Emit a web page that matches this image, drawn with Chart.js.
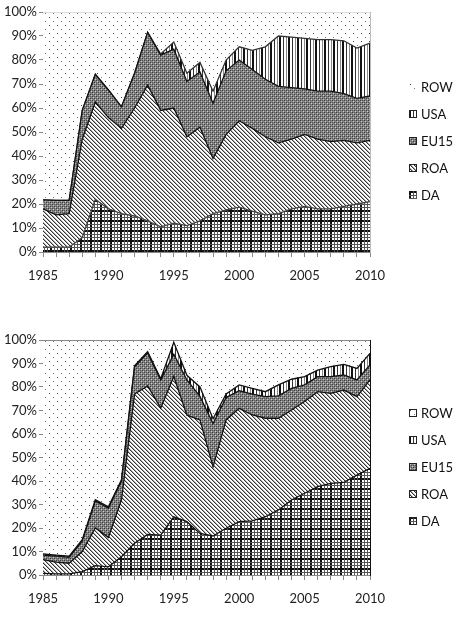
<!DOCTYPE html>
<html>
<head>
<meta charset="utf-8">
<script src="https://cdn.jsdelivr.net/npm/chart.js@4"></script>
<style>
  body { margin: 0; background: #fff; }
  .wrap { position: absolute; left: 0; width: 471px; height: 290px; }
  .legend { position: absolute; left: 409px; font: 13px Lato, sans-serif; color: #111; }
  .item { position: absolute; left: 0; height: 14px; line-height: 14px; white-space: nowrap; }
  .item canvas { position: absolute; left: 0; top: 3px; }
  .item span { position: absolute; left: 12px; top: 0; }
</style>
</head>
<body>
<div class="wrap" style="top:0"><canvas id="chartTop" width="471" height="290"></canvas></div>
<div class="wrap" style="top:328px"><canvas id="chartBottom" width="471" height="290"></canvas></div>
<div id="legendTop" class="legend" style="top:80px"></div>
<div id="legendBottom" class="legend" style="top:406px"></div>
<script>
const years = ['1985', '1986', '1987', '1988', '1989', '1990', '1991', '1992', '1993',
  '1994', '1995', '1996', '1997', '1998', '1999', '2000', '2001', '2002', '2003',
  '2004', '2005', '2006', '2007', '2008', '2009', '2010'];
const yTicks = [0, 10, 20, 30, 40, 50, 60, 70, 80, 90, 100];

// upper panel, share of total (%)
const topDA   = [2, 2, 2, 6, 22, 18, 16, 15, 13, 10.5, 12, 11, 13, 16, 17.5, 18.7, 17, 15.5, 16, 18, 19, 18, 18, 19, 20, 21];
const topROA  = [16, 13.5, 14, 41, 40.5, 38, 35.5, 45, 56.5, 48.5, 48, 37, 39, 23, 31.5, 36, 34.5, 32.5, 29.5, 29, 30, 29, 28, 27.5, 25.5, 25.5];
const topEU15 = [3.7, 6, 5.5, 12, 11.5, 11.5, 9, 14.5, 22, 23, 24.5, 23, 23, 23, 26.5, 25.3, 24.5, 24, 23.5, 21.5, 19, 20, 21, 19.5, 18.5, 18.5];
const topUSA  = [0, 0, 0, 0, 0, 0, 0, 0, 0, 0.5, 3, 3.5, 4, 5, 4.5, 5.5, 8, 13.5, 21, 21, 21, 21.5, 21.5, 22, 21, 22];
const topROW  = [78.3, 78.5, 78.5, 41, 26, 32.5, 39.5, 25.5, 8.5, 17.5, 12.5, 25.5, 21, 33, 20, 14.5, 16, 14.5, 10, 10.5, 11, 11.5, 11.5, 12, 15, 13];

// lower panel, share of total (%)
const botDA   = [0.7, 0.5, 0.5, 1.4, 4, 3.5, 7.8, 13.5, 17.3, 17, 24.8, 22.7, 17.7, 16.6, 19.9, 22.7, 23, 24.8, 27.7, 31.9, 34.8, 37.6, 39, 39.4, 42.5, 45.4];
const botROA  = [5.8, 5, 4.5, 8.6, 16, 12.5, 24.2, 63.5, 63.2, 54, 59.7, 45.3, 48.3, 29.4, 46.1, 48.2, 45.1, 41.9, 39, 38.3, 39, 40.4, 38.3, 39.3, 33.4, 37.6];
const botEU15 = [2, 2.5, 2.5, 4.5, 11.5, 12.5, 8, 11.5, 14, 12, 9.5, 15, 10, 18.5, 9.5, 7.5, 8.9, 9.2, 9.5, 9.2, 7.1, 6.4, 7.1, 6.4, 7.1, 6.4];
const botUSA  = [0.5, 0.5, 0.5, 0.5, 0.5, 0.5, 0.5, 0.5, 0.5, 0.5, 5, 2, 4, 2, 1.5, 2.5, 2.4, 2.1, 4.7, 3.9, 3.5, 2.8, 4.3, 4.5, 4.9, 4.9];
const botROW  = [91, 91.5, 92, 85, 68, 71, 59.5, 11, 5, 16.5, 1, 15, 20, 33.5, 23, 19.1, 20.6, 22, 19.1, 16.7, 15.6, 12.8, 11.3, 10.4, 12.1, 5.7];

const names = ['DA', 'ROA', 'EU15', 'USA', 'ROW'];

// small tiles used as fill patterns
function tile(w, h, draw) {
  const c = document.createElement('canvas');
  c.width = w; c.height = h;
  const g = c.getContext('2d');
  g.fillStyle = '#fff';
  g.fillRect(0, 0, w, h);
  draw(g);
  return c;
}
function px(g, color, x, y, w, h) {
  g.fillStyle = color;
  g.fillRect(x, y, w || 1, h || 1);
}

const tiles = {
  ROW: tile(8, 8, g => { px(g, '#444', 1, 1); px(g, '#777', 5, 5); }),
  USA: tile(9, 1, g => { px(g, '#111', 0, 0, 2, 1); px(g, '#333', 4, 0); px(g, '#888', 7, 0); }),
  EU15: tile(4, 4, g => {
    px(g, '#858585', 0, 0, 4, 4);
    px(g, '#3a3a3a', 0, 0); px(g, '#3a3a3a', 2, 2);
    px(g, '#555', 0, 2); px(g, '#555', 2, 0);
    px(g, '#c8c8c8', 1, 1); px(g, '#c8c8c8', 3, 3);
  }),
  ROA: tile(4, 4, g => {
    for (let i = 0; i < 4; i++) { px(g, '#333', i, i); px(g, '#aaa', (i + 1) % 4, i); }
  }),
  DA: tile(10, 10, g => {
    px(g, '#111', 0, 0, 2, 10); px(g, '#111', 0, 0, 10, 2);
    px(g, '#555', 4, 0, 1, 10); px(g, '#555', 7, 0, 1, 10);
    px(g, '#555', 0, 4, 10, 1); px(g, '#555', 0, 7, 10, 1);
  })
};

function makeChart(id, series, lineColors, rowBorder, axisHeight) {
  const ctx = document.getElementById(id).getContext('2d');
  const datasets = names.map((name, i) => ({
    label: name,
    data: series[i],
    backgroundColor: ctx.createPattern(tiles[name], 'repeat'),
    borderColor: name === 'ROW' ? rowBorder : lineColors[i],
    borderWidth: name === 'ROW' ? 1 : 1.3,
    fill: i === 0 ? 'origin' : '-1',
    pointRadius: 0,
    tension: 0
  }));
  return new Chart(ctx, {
    type: 'line',
    data: { labels: years, datasets: datasets },
    options: {
      responsive: false,
      animation: false,
      devicePixelRatio: 1,
      layout: { padding: { top: 12, right: 101 } },
      plugins: { legend: { display: false }, tooltip: { enabled: false } },
      scales: {
        x: {
          offset: false,
          grid: { drawOnChartArea: false, tickLength: 5, color: '#888' },
          border: { color: '#888' },
          ticks: {
            autoSkip: false, maxRotation: 0, color: '#222', padding: 11,
            font: { family: 'Lato', size: 13 },
            callback: (v, i) => (Number(years[i]) % 5 === 0 ? years[i] : '')
          },
          afterFit: s => { s.height = axisHeight; }
        },
        y: {
          stacked: true, min: 0, max: 100,
          afterBuildTicks: s => { s.ticks = yTicks.map(v => ({ value: v })); },
          grid: { drawOnChartArea: false, tickLength: 4, color: '#888' },
          border: { color: '#888' },
          ticks: {
            color: '#222', padding: 2,
            font: { family: 'Lato', size: 13 },
            callback: v => v + '%'
          },
          afterFit: s => { s.width = 43; }
        },
        y2: {
          position: 'right', min: 0, max: 100,
          grid: { display: false },
          border: { color: rowBorder },
          ticks: { display: false },
          afterFit: s => { s.width = 0; }
        }
      }
    }
  });
}

makeChart('chartTop', [topDA, topROA, topEU15, topUSA, topROW],
  ['#444', '#111', '#111', '#333'], '#bbb', 38);
makeChart('chartBottom', [botDA, botROA, botEU15, botUSA, botROW],
  ['#111', '#111', '#111', '#111'], '#111', 43);

function makeLegend(id, bordered) {
  const box = document.getElementById(id);
  names.slice().reverse().forEach((name, i) => {
    const item = document.createElement('div');
    item.className = 'item';
    item.style.top = (i * 27) + 'px';
    const sw = document.createElement('canvas');
    sw.width = 8; sw.height = 8;
    const g = sw.getContext('2d');
    g.fillStyle = g.createPattern(tiles[name], 'repeat');
    g.fillRect(0, 0, 8, 8);
    if (bordered[i]) {
      g.strokeStyle = '#222';
      g.lineWidth = 1;
      g.strokeRect(0.5, 0.5, 7, 7);
    }
    const label = document.createElement('span');
    label.textContent = name;
    item.appendChild(sw);
    item.appendChild(label);
    box.appendChild(item);
  });
}
makeLegend('legendTop', [false, true, true, true, false]);
makeLegend('legendBottom', [true, true, true, true, true]);
</script>
</body>
</html>
